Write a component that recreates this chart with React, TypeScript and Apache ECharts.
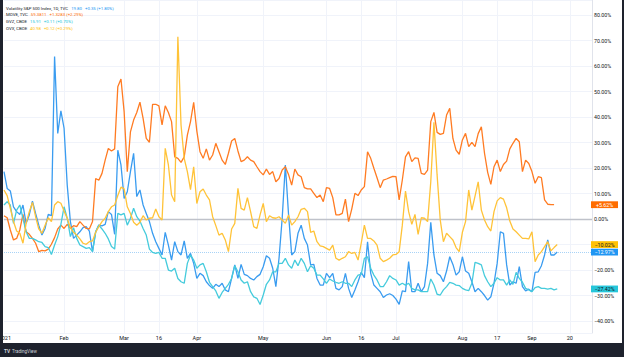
import React, { useEffect, useRef } from "react";
import * as echarts from "echarts";

// % change since 31 Dec 2020, one value per trading day (4 Jan 2021 onwards)
const vix = [
  18.6, 12, 11, 4.8, 2.9, 1.8, 5.5, -1.7, 1.6, 7, 2.2, -2.4, -6.3, -3.7, 1.8, 1.3, 63.7, 33.6, 42.4, 35.6,
  13.3, -1, -7.6, -6.3, -5, -3.4, -3, -4.7, -12.8, -5, -2.4, -2.7, -2.1, 2.9, 1.8, -6, 27, 21.2, 8.1, 10.7,
  18.6, 25.8, 8.8, 11.4, 5.5, 2.2, -1, -5.6, -8.9, -11.5, -14.1, -5.2, -10.2, -16.1, -8.9, -12.8, -14.1, -8.6, -15.4, -13.5,
  -17.4, -23.3, -21.3, -22.2, -24.6, -26.1, -27.2, -25.6, -26.5, -25.2, -27.8, -28.5, -23.3, -18, -23.3, -17.8, -21.7, -22.2, -23.3, -23.9,
  -22.6, -21.7, -18.7, -14.4, -15.4, -19.3, -26.5, -15.4, 0.3, 21.2, 2, -14.1, -12.8, -5.6, -2.4, -7.6, -10.2, -18, -17.8, -23.3,
  -25.9, -25.9, -21.3, -23, -21.3, -27.2, -27.8, -26.5, -21.3, -27.2, -30.8, -27.8, -24.6, -20.9, -23, -8.9, -21.3, -25.9, -27.2, -28.5,
  -30.8, -29.8, -29.3, -30, -31.4, -33.5, -28.2, -28.5, -16.7, -28.5, -28.5, -25.2, -28.5, -26.5, -17.4, -1.3, -14.1, -21.3, -22.2, -24.6,
  -20.4, -14.8, -17.8, -22, -20.7, -14.8, -20.4, -21.3, -24.6, -28.5, -27.2, -28.5, -30, -31.8, -30.5, -25.2, -17.4, -5, -5.6, -18,
  -25.9, -24.6, -25.2, -18.7, -26.5, -28.2, -27.5, -28.5, -20.9, -20.7, -18.3, -14.1, -8.2, -14.1, -14.1, -12.97,
];
const move = [
  1.3, 0.5, -4.3, -8.2, -7.6, -4.3, 1.8, -5, -6, -7.6, -9.5, -12.8, -12.3, -12.5, -11.8, -9.9, -7.3, -3.9, -2.4, -3.7,
  -2.1, -3.7, -2.6, -3, -1, -2.4, -3.7, -3.9, -1, 15.9, 15.2, 17.9, 23.1, 27.7, 26.7, 27.5, 51.9, 54.9, 42.1, 18.6,
  34.2, 38.8, 41.8, 45.8, 39.5, 31.6, 30.1, 45, 45, 44.4, 36.9, 44.4, 41.8, 38.2, 24.4, 23.8, 22.2, 24.4, 32.9, 38.2,
  45.8, 34.5, 26.4, 23.8, 27.5, 23.1, 25.1, 29.7, 26.4, 23.1, 21.4, 25.8, 30.6, 31.6, 26.7, 22.5, 23.1, 24.4, 23.1, 22.5,
  20.5, 18.6, 17.3, 19.6, 17.5, 18.6, 14.6, 15.9, 19.2, 20.5, 17.5, 13.3, 19.6, 17.3, 16.6, 12.3, 11.8, 11.8, 10.1, 8.4,
  9.4, 6.8, 12.3, 12, 8.4, 1.6, 1.6, 2.2, 7.8, -1, 3.9, 10.1, 9.2, 11.4, 12.7, 26.4, 23.8, 19.9, 16.2, 12.3,
  15.3, 15.7, 16.2, 16.7, 16.6, 7.5, 15.3, 24.4, 26.4, 22.5, 24, 23.8, 17.9, 17.5, 19.2, 38.2, 41.8, 34, 33.2, 33.6,
  40.8, 43.4, 31.6, 27, 25.4, 31, 33.6, 28.4, 30.1, 28.4, 33.5, 36.2, 25.8, 18.3, 13.6, 20.5, 23.1, 18.6, 21.4, 22.7,
  27.5, 29.7, 31.6, 30.3, 18.6, 23.1, 21.8, 18.6, 14, 16.6, 16.2, 7.5, 5.8, 5.62, 5.62,
];
const gvz = [
  5.5, 6.8, 5.5, -1.7, 3.5, 5.5, 0.3, -5, -7.6, -7.6, -8.2, -8.9, -9.2, -10.8, -11.2, -13.9, -10.2, -6.9, -2.1, 4.8,
  0.3, -6.9, -3.4, -7.6, -10.2, -10.8, -11.5, -11.2, -12.8, -5, -2.4, -3.9, -5.6, -7.8, -10.8, -11.8, 2.2, 1.6, 2.2, -2.4,
  0.3, 4.2, 0.9, -0.8, -3.7, -6.3, -11.8, -13.1, -13.5, -13.1, -15.4, -15.4, -20, -20.4, -19.3, -23.3, -24.6, -25.2, -17.4, -14.1,
  -16.1, -19.3, -18, -17.4, -20.7, -24.8, -26.5, -28.2, -31.1, -28.8, -27.2, -25.6, -23.3, -18.3, -20.7, -23.9, -25.2, -24.6, -28.5, -30.5,
  -31.1, -33.5, -29.8, -25.6, -23.9, -20.7, -20.7, -17.4, -17.4, -15.4, -18, -19.3, -16.1, -18.3, -15.4, -17.4, -20.7, -18.3, -19.3, -22,
  -22, -23.5, -25.2, -23.5, -24.3, -24.8, -25.2, -24.6, -25.2, -25.2, -26.5, -23.9, -22, -21.7, -15.4, -14.8, -19.3, -22, -23.9, -26.5,
  -26.5, -24.6, -22.2, -23.3, -23.9, -25.9, -25.2, -25.9, -25.2, -27.2, -27.8, -27.8, -28.5, -28.5, -28.5, -23.5, -25.9, -29.5, -29.8, -27.8,
  -26.5, -24.8, -25.2, -25.9, -26.1, -27.2, -27.8, -28.1, -25.2, -17, -17.4, -18, -22.2, -24.6, -26.5, -25.2, -23, -23.9, -23.9, -25.9,
  -23.9, -25.6, -20.9, -23.3, -24.8, -27.2, -27.8, -28.5, -26.9, -26.5, -27.2, -27.2, -27.5, -27.2, -27.8, -27.42,
];
const ovx = [
  11.4, 9.2, 4.2, -1, -4.7, -5.6, -9.5, -1.7, 2.9, 6.5, 0.9, -3.9, -5.6, -2.4, 0.5, -1, 5.5, 6.8, 6.2, 3.1,
  0.3, -3.4, -5.2, -6.3, -7.8, -9.5, -9.9, -8.9, -8.6, -5.2, -3, -1, 0.3, 2.9, 4.8, 5.5, 9.2, 12.5, 11.8, 4.8,
  2.2, -1.3, -2.4, -1.3, 1.3, -0.4, 0.3, 0.5, 3.9, 0.9, -0.4, 27.7, 21.2, 9.4, 6.8, 71.5, 36.9, 23.8, 18.6, 11.5,
  20.5, 6.1, 10.7, 11.8, 9.4, 7.5, 0.9, -2.6, -6.3, -5.6, -8.2, -12.8, -3.9, -1.7, 12, 4.2, 3.5, 8.4, 2.9, -3,
  -3.7, 1.6, 6.1, -1, 1.3, 0.5, 0.3, 0.9, -0.4, -1.7, 1.6, -2.4, -1, 0.9, 3.8, 4.2, 2.9, -5.2, -4.7, -8.9,
  -10.5, -10.8, -11.5, -12.2, -10.2, -15.4, -16.1, -15.4, -14.8, -12.8, -13.5, -13.1, -16.1, -9.5, -2.4, -7.6, -7.6, -8.6, -10.2, -15.4,
  -16.7, -16.1, -15.4, -14.1, -13.9, -12.8, -2.4, 11, 2.9, -2.1, 1.8, -6, 0.5, 0.3, -1, 14.6, 37.9, 17.3, -0.4, -8.9,
  -5.6, -6.9, -8.2, -11.2, -12.8, -5.2, -1, 11.4, 3.5, 9, 14.6, 3.5, -0.4, -3, -4.7, 2.9, 7.1, 8.4, 7.8, 4.4,
  -0.8, -3.9, -5, -6.3, -7.6, -7.6, -7.8, -5, -16.7, -14.1, -12.8, -10.8, -8.9, -12.5, -11.2, -10.02,
];

// time axis: trading-day slots, with labelled slots
const slotCount = 187;
const xTickIndex = [19, 38, 49, 61, 82, 102, 113, 124, 145, 156, 167, 179];
const xTickText = ["Feb", "Mar", "16", "Apr", "May", "Jun", "16", "Jul", "Aug", "17", "Sep", "20"];
const yearLabel = "2021";

const seriesNames = ["Volatility S&P 500 Index, 1D, TVC", "MOVE, TVC", "GVZ, CBOE", "OVX, CBOE"];
const legendValues = ["19.80", "59.3811", "15.91", "40.98"];
const legendChanges = ["+0.35 (+1.80%)", "+1.3283 (+2.29%)", "+0.11 (+0.70%)", "+0.12 (+0.29%)"];

const lineColors = ["#3a9cf0", "#ff7b22", "#45cbdc", "#ffc338"];
const labelBg = ["#2196f3", "#ff6d00", "#26c6da", "#ffc107"];
const labelFg = ["#ffffff", "#ffffff", "#131722", "#131722"];
const FONT = "Roboto, 'Noto Sans', sans-serif";

function pct(v: number, plus: boolean) {
  const s = Math.abs(v).toFixed(2) + "%";
  if (v < 0) return "\u2212" + s;
  return plus && v > 0 ? "+" + s : s;
}

export default function App() {
  const ref = useRef<HTMLDivElement>(null);

  useEffect(() => {
    document.body.style.margin = "0";
    const el = ref.current!;
    const chart = echarts.init(el, null, { renderer: "svg" });
    const categories = Array.from({ length: slotCount }, (_, i) => String(i));
    const dataSets = [vix, move, gvz, ovx];
    const lastVals = dataSets.map((d) => d[d.length - 1]);
    const isTick = (i: number) => xTickIndex.indexOf(i) >= 0;

    chart.setOption({
      animation: false,
      backgroundColor: "#ffffff",
      textStyle: { fontFamily: FONT },
      grid: { left: 4, right: 32, top: 0, bottom: 24, containLabel: false },
      xAxis: {
        type: "category",
        data: categories,
        boundaryGap: false,
        axisLine: { show: true, lineStyle: { color: "#e0e3eb", width: 1 } },
        axisTick: { show: false },
        axisLabel: {
          interval: (i: number) => isTick(i),
          formatter: (_v: string, i: number) => {
            const k = xTickIndex.indexOf(i);
            return k >= 0 ? xTickText[k] : "";
          },
          fontSize: 5.5,
          color: "#131722",
          margin: 2,
          fontFamily: FONT,
        },
        splitLine: { show: true, interval: (i: number) => isTick(i), lineStyle: { color: "#f0f3fa", width: 1 } },
      },
      yAxis: {
        type: "value",
        position: "right",
        min: -44.7,
        max: 85.9,
        splitNumber: 13,
        axisLine: { show: true, lineStyle: { color: "#e0e3eb", width: 1 } },
        axisTick: { show: false },
        axisLabel: {
          showMinLabel: false,
          showMaxLabel: false,
          fontSize: 5.3,
          color: "#131722",
          margin: 2,
          fontFamily: FONT,
          formatter: (v: number) => (Math.abs(v - Math.round(v / 10) * 10) < 1e-6 ? pct(v, false) : ""),
        },
        splitLine: { show: true, lineStyle: { color: "#f0f3fa", width: 1 } },
      },
      series: dataSets.map((d, k) => ({
        name: seriesNames[k],
        type: "line",
        data: d,
        showSymbol: false,
        symbol: "none",
        z: 2,
        lineStyle: { color: lineColors[k], width: 1.3 },
        itemStyle: { color: lineColors[k] },
        markLine:
          k === 0
            ? {
                silent: true,
                symbol: "none",
                z: 1,
                label: { show: false },
                data: [
                  { yAxis: 0, lineStyle: { color: "#bfc2ca", width: 1.3, type: "solid" } },
                  { yAxis: lastVals[0], lineStyle: { color: "#a8d3f7", width: 1, type: "dotted" } },
                ],
              }
            : undefined,
      })),
    });

    const valueLabels = lastVals.map((v, k) => {
      const y = chart.convertToPixel({ yAxisIndex: 0 }, v) as number;
      return {
        type: "group",
        z: 50,
        children: [
          { type: "rect", shape: { x: 591, y: y - 3.4, width: 27, height: 6.8 }, style: { fill: labelBg[k] }, z: 50 },
          {
            type: "text",
            x: 604.5,
            y: y,
            z: 51,
            style: {
              text: pct(v, true),
              fill: labelFg[k],
              fontSize: 5.3,
              fontFamily: FONT,
              align: "center",
              verticalAlign: "middle",
            },
          },
        ],
      };
    });

    const legend = seriesNames.map((n, k) => ({
      type: "text",
      x: 6,
      y: 8 + k * 6.7,
      z: 60,
      style: {
        text: `{n|${n}}{v|${legendValues[k]}}{v|${legendChanges[k]}}`,
        verticalAlign: "middle",
        fontFamily: FONT,
        rich: {
          n: { fill: "#131722", fontSize: 4.3, fontFamily: FONT },
          v: { fill: labelBg[k], fontSize: 4.3, fontFamily: FONT, padding: [0, 0, 0, 3] },
        },
      },
    }));

    const frame = [
      {
        type: "text",
        x: 11,
        y: 337.5,
        z: 40,
        style: { text: yearLabel, fill: "#131722", fontSize: 5.5, fontFamily: FONT, align: "right", verticalAlign: "middle" },
      },
      { type: "rect", shape: { x: 0, y: 0, width: 3, height: 357 }, style: { fill: "#1e222d" }, z: 100 },
      { type: "rect", shape: { x: 622, y: 0, width: 2, height: 357 }, style: { fill: "#1e222d" }, z: 100 },
      { type: "rect", shape: { x: 0, y: 343, width: 624, height: 14 }, style: { fill: "#1e222d" }, z: 100 },
      {
        type: "text",
        x: 4,
        y: 351,
        z: 101,
        style: { text: "TV", fill: "#d1d4dc", fontSize: 4.8, fontWeight: "bold", fontFamily: FONT, verticalAlign: "middle" },
      },
      {
        type: "text",
        x: 12,
        y: 351,
        z: 101,
        style: { text: "TradingView", fill: "#d1d4dc", fontSize: 4.5, fontFamily: FONT, verticalAlign: "middle" },
      },
    ];

    chart.setOption({ graphic: [...valueLabels, ...legend, ...frame] });

    return () => chart.dispose();
  }, []);

  return <div ref={ref} style={{ position: "fixed", left: 0, top: 0, width: 624, height: 357 }} />;
}
